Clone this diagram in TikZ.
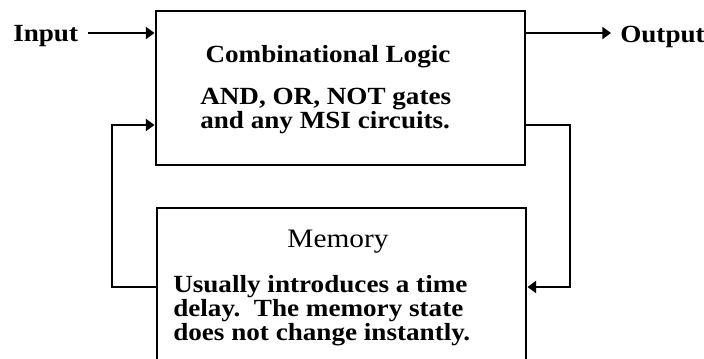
\documentclass[tikz,border=0pt]{standalone}
\usepackage{fontspec}
\setmainfont{Liberation Serif}[FakeStretch=1.1]
\usetikzlibrary{arrows.meta}

\begin{document}
\begin{tikzpicture}[x=0.75pt,y=-0.75pt,box/.style={draw,line width=2.2pt,inner sep=0,minimum width=276.75pt},wire/.style={line width=2pt},feed/.style={wire,-{Triangle[length=6.5pt,width=9pt]}},label/.style={inner sep=0,anchor=base west,font=\fontsize{18.5}{22}\selectfont\bfseries}]
 \clip (0,0) rectangle (704,358);
 \coordinate (inY) at (0,33); \coordinate (rTop) at (570,125); \coordinate (rBot) at (570,287);
 \coordinate (lBot) at (112,287); \coordinate (lTop) at (112,125);
 \node[box,minimum height=115.5pt] (logic) at (340.5,88) {};
 \node[box,minimum height=129pt] (mem) at (341.5,294) {};
 \node[label] (input) at (13,41) {Input};
 \node[label] (output) at (620,42) {Output};
 \node[label,anchor=base] (title) at (328,62) {Combinational Logic};
 \node[label] (gates) at (200,104) {AND, OR, NOT gates};
 \node[label] (msi) at (200,128) {and any MSI circuits.};
 \node[inner sep=0,anchor=base,font=\fontsize{20}{24}\selectfont] (memtitle) at (338,247) {Memory};
 \foreach \txt [count=\i] in {Usually introduces a time,delay.\ \ The memory state,does not change instantly.}
  {\node[label] (mem\i) at (173,268+24*\i) {\txt};}
 \draw[feed] ([xshift=7.5pt]input.east |- inY) -- (logic.west |- inY);
 \draw[feed] (logic.east |- inY) -- ([xshift=-6.75pt]output.west |- inY);
 \draw[feed] (logic.east |- rTop) -- (rTop) -- (rBot) -- (mem.east |- rBot);
 \draw[feed] (mem.west |- lBot) -- (lBot) -- (lTop) -- (logic.west |- lTop);
\end{tikzpicture}
\end{document}
